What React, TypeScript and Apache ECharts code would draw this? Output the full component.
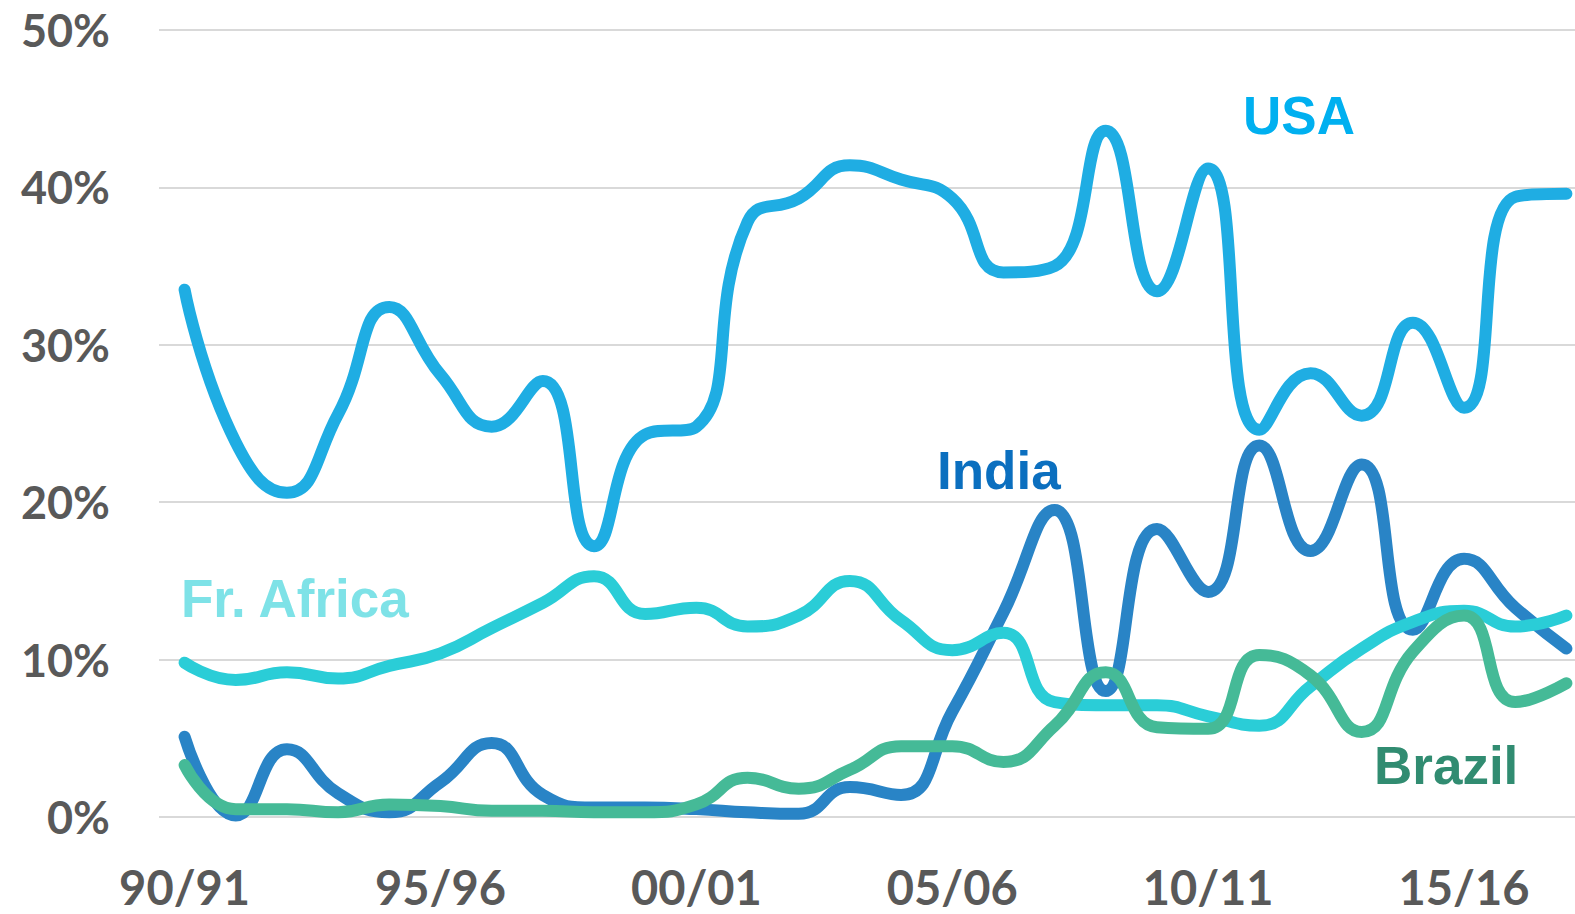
import React, { useEffect, useRef } from "react";
import * as echarts from "echarts";

const years = [
  "90/91", "91/92", "92/93", "93/94", "94/95", "95/96", "96/97", "97/98", "98/99", "99/00",
  "00/01", "01/02", "02/03", "03/04", "04/05", "05/06", "06/07", "07/08", "08/09", "09/10",
  "10/11", "11/12", "12/13", "13/14", "14/15", "15/16", "16/17", "17/18",
];

const usa = [33.5, 23.8, 20.6, 25.6, 32.4, 28.1, 24.8, 27.7, 17.2, 24.3, 24.8, 37.8, 39.3, 41.4, 40.5, 39.3, 34.6, 35.0, 43.6, 33.4, 41.2, 24.6, 28.2, 25.5, 31.4, 26.0, 39.4, 39.6];
const india = [5.1, 0.1, 4.3, 1.5, 0.3, 2.2, 4.7, 1.4, 0.6, 0.6, 0.5, 0.3, 0.2, 1.9, 1.4, 6.7, 13.0, 19.5, 8.0, 18.3, 14.3, 23.6, 16.9, 22.4, 11.9, 16.4, 13.3, 10.7];
const frAfrica = [9.8, 8.7, 9.2, 8.8, 9.6, 10.4, 12.0, 13.6, 15.3, 12.9, 13.3, 12.1, 12.8, 15.0, 12.5, 10.6, 11.7, 7.3, 7.1, 7.1, 6.4, 5.8, 8.3, 10.7, 12.4, 13.1, 12.1, 12.8];
const brazil = [3.3, 0.5, 0.5, 0.3, 0.8, 0.7, 0.4, 0.4, 0.3, 0.3, 0.8, 2.5, 1.8, 3.0, 4.5, 4.5, 3.5, 5.8, 9.2, 5.7, 5.6, 10.3, 9.0, 5.4, 10.5, 12.8, 7.3, 8.5];

const yTicks = [0, 10, 20, 30, 40, 50];

export default function App() {
  const ref = useRef<HTMLDivElement>(null);
  useEffect(() => {
    if (!ref.current) return;
    const chart = echarts.init(ref.current, undefined, { renderer: "svg" });
    const line = (name: string, data: number[], color: string) => ({
      name,
      type: "line",
      data,
      smooth: 0.5,
      symbol: "none",
      clip: false,
      lineStyle: { color, width: 12, cap: "round", join: "round" },
    });
    chart.setOption({
      animation: false,
      backgroundColor: "#ffffff",
      grid: { left: 159, right: 8, top: 30, bottom: 97, containLabel: false },
      xAxis: {
        type: "category",
        data: years,
        boundaryGap: true,
        axisLine: { show: false },
        axisTick: { show: false },
        axisLabel: {
          interval: 4,
          margin: 46,
          color: "#595959",
          fontFamily: "Lato",
          fontWeight: "bold",
          fontSize: 47,
        },
      },
      yAxis: {
        type: "value",
        min: yTicks[0],
        max: yTicks[yTicks.length - 1],
        interval: 10,
        axisLine: { show: false },
        axisTick: { show: false },
        splitLine: { lineStyle: { color: "#d9d9d9", width: 2 } },
        axisLabel: {
          margin: 49,
          color: "#595959",
          fontFamily: "Lato",
          fontWeight: "bold",
          fontSize: 45,
          formatter: (v: number) => v + "%",
        },
      },
      series: [
        line("USA", usa, "#1fade3"),
        line("India", india, "#2984c6"),
        line("Fr. Africa", frAfrica, "#2acdd7"),
        line("Brazil", brazil, "#45ba97"),
      ],
      graphic: [
        { type: "text", left: 1243, top: 89, style: { text: "USA", fill: "#00b0f0", font: "bold 53px 'Liberation Sans'" } },
        { type: "text", left: 937, top: 444, style: { text: "India", fill: "#0b6fbf", font: "bold 53px 'Liberation Sans'" } },
        { type: "text", left: 181, top: 572, style: { text: "Fr. Africa", fill: "#7ee2e7", font: "bold 53px 'Liberation Sans'" } },
        { type: "text", left: 1374, top: 739, style: { text: "Brazil", fill: "#318c71", font: "bold 53px 'Liberation Sans'" } },
      ],
    });
    return () => chart.dispose();
  }, []);
  return (
    <div style={{ position: "fixed", left: 0, top: 0, width: 1575, height: 914, overflow: "hidden", background: "#fff" }}>
      <div ref={ref} style={{ width: 1600, height: 914 }} />
    </div>
  );
}
